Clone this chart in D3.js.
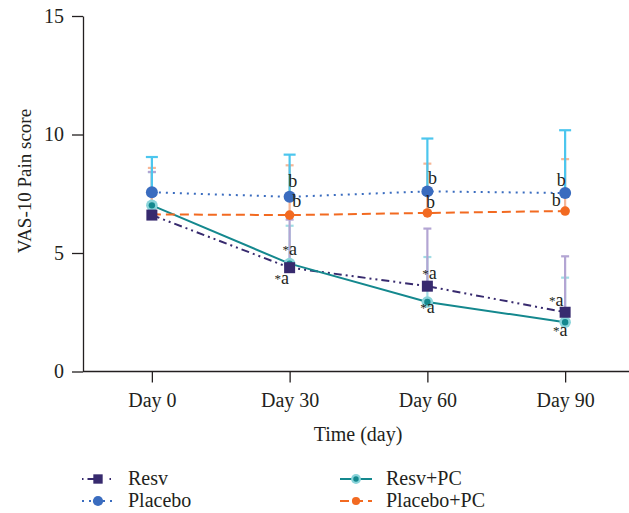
<!doctype html>
<html>
<head>
<meta charset="utf-8">
<script src="https://cdn.jsdelivr.net/npm/d3@7/dist/d3.min.js"></script>
<style>
  body { margin: 0; background: #fff; }
  text { font-family: "Liberation Serif", "DejaVu Serif", serif; fill: #231f20; }
</style>
</head>
<body>
<div id="chart"></div>
<script>
const days = ["Day 0", "Day 30", "Day 60", "Day 90"];
const yTicks = [0, 5, 10, 15];

const seriesNames = ["Resv", "Placebo", "Resv+PC", "Placebo+PC"];
const resvMean = [6.6, 4.38, 3.6, 2.5];
const resvSd = [1.82, 2.03, 2.43, 2.36];
const placeboMean = [7.56, 7.37, 7.6, 7.53];
const placeboSd = [1.49, 1.78, 2.23, 2.65];
const resvPcMean = [7.01, 4.55, 2.93, 2.08];
const resvPcSd = [1.4, 1.6, 1.9, 1.88];
const placeboPcMean = [6.63, 6.6, 6.69, 6.77];
const placeboPcSd = [1.96, 2.1, 2.08, 2.19];

// significance letters, null where nothing is printed
const resvSig = [null, "*a", "*a", "*a"];
const placeboSig = [null, "b", "b", "b"];
const resvPcSig = [null, "*a", "*a", "*a"];
const placeboPcSig = [null, "b", "b", "b"];

const W = 629, H = 513;
const svg = d3.select("#chart").append("svg").attr("width", W).attr("height", H);

const x = d3.scalePoint().domain(days).range([83, 634]).padding(0.5);
const y = d3.scaleLinear().domain([0, 15]).range([371.5, 16]);

const series = [
  {name: seriesNames[0], mean: resvMean, sd: resvSd, sig: resvSig, color: "#372a6e", err: "#b3a5d3",
   dash: "8,4,2,4,2,4", cap: 8, marker: "square",
   lab: [[0,0],[0,-13],[2,-7],[-9,-6]]},
  {name: seriesNames[1], mean: placeboMean, sd: placeboSd, sig: placeboSig, color: "#3a6cbf", err: "#4cc6ee",
   dash: "2,5", cap: 12, marker: "circle",
   lab: [[0,0],[3,-10],[5,-7],[-4,-7]]},
  {name: seriesNames[2], mean: resvPcMean, sd: resvPcSd, sig: resvPcSig, color: "#14888e", err: "#a2dde4",
   dash: null, cap: 8, marker: "halo",
   lab: [[0,0],[-8,20],[0,11],[-5,14]]},
  {name: seriesNames[3], mean: placeboPcMean, sd: placeboPcSd, sig: placeboPcSig, color: "#f26a21", err: "#f7b797",
   dash: "9,5", cap: 8, marker: "dot",
   lab: [[0,0],[7,-8],[3,-5],[-9,-5]]}
];

// axes
const yAxis = svg.append("g").attr("transform", "translate(83,0)")
  .call(d3.axisLeft(y).tickValues(yTicks).tickSize(11).tickPadding(8).tickSizeOuter(0));
const xAxis = svg.append("g").attr("transform", "translate(0,371.5)")
  .call(d3.axisBottom(x).tickSize(11).tickPadding(10).tickSizeOuter(0));
[yAxis, xAxis].forEach(g => {
  g.select(".domain").attr("stroke", "#231f20").attr("stroke-width", 1.3);
  g.selectAll(".tick line").attr("stroke", "#231f20").attr("stroke-width", 1.3);
  g.selectAll(".tick text").attr("fill", "#231f20").style("font-size", "20px")
    .style("font-family", '"Liberation Serif", serif');
});
xAxis.select(".domain").attr("d", "M83,0H629");

svg.append("text").attr("transform", "translate(31,181) rotate(-90)")
  .attr("text-anchor", "middle").style("font-size", "19px").text("VAS-10 Pain score");
svg.append("text").attr("x", 358).attr("y", 441)
  .attr("text-anchor", "middle").style("font-size", "20px").text("Time (day)");

// error bars (upper half only)
const errOrder = [2, 0, 3, 1];
errOrder.forEach(i => {
  const s = series[i];
  const g = svg.append("g");
  days.forEach((d, j) => {
    const top = y(s.mean[j] + s.sd[j]);
    g.append("line").attr("x1", x(d)).attr("x2", x(d))
      .attr("y1", y(s.mean[j])).attr("y2", top)
      .attr("stroke", s.err).attr("stroke-width", 2.2);
    g.append("line").attr("x1", x(d) - s.cap / 2).attr("x2", x(d) + s.cap / 2)
      .attr("y1", top).attr("y2", top)
      .attr("stroke", s.err).attr("stroke-width", 2.2);
  });
});

// lines
const line = d3.line().x((v, j) => x(days[j])).y(v => y(v));
series.forEach(s => {
  svg.append("path").attr("d", line(s.mean)).attr("fill", "none")
    .attr("stroke", s.color).attr("stroke-width", 2)
    .attr("stroke-dasharray", s.dash);
});

function drawMarker(g, s, cx, cy, scale) {
  if (s.marker === "square") {
    const a = 11 * scale;
    g.append("rect").attr("x", cx - a / 2).attr("y", cy - a / 2).attr("width", a).attr("height", a)
      .attr("fill", s.color);
  } else if (s.marker === "circle") {
    g.append("circle").attr("cx", cx).attr("cy", cy).attr("r", 6 * scale).attr("fill", s.color);
  } else if (s.marker === "halo") {
    g.append("circle").attr("cx", cx).attr("cy", cy).attr("r", 5.8 * scale).attr("fill", "#8ad4da");
    g.append("circle").attr("cx", cx).attr("cy", cy).attr("r", 3.2 * scale).attr("fill", s.color);
  } else {
    g.append("circle").attr("cx", cx).attr("cy", cy).attr("r", 4.8 * scale).attr("fill", s.color);
  }
}

// markers, drawn so the Resv square sits on top at day 0
[3, 2, 1, 0].forEach(i => {
  const s = series[i];
  const g = svg.append("g");
  days.forEach((d, j) => drawMarker(g, s, x(d), y(s.mean[j]), 1));
});

// significance labels
series.forEach(s => {
  days.forEach((d, j) => {
    if (!s.sig[j]) return;
    const t = svg.append("text")
      .attr("x", x(d) + s.lab[j][0]).attr("y", y(s.mean[j]) + s.lab[j][1])
      .attr("text-anchor", "middle").style("font-size", "18px");
    if (s.sig[j].startsWith("*")) {
      t.append("tspan").style("font-size", "13px").attr("dy", -1).text("*");
      t.append("tspan").attr("dy", 1).text(s.sig[j].slice(1));
    } else {
      t.text(s.sig[j]);
    }
  });
});

// legend
const legendPos = [[82, 479], [82, 501], [340, 479], [340, 501]];
series.forEach((s, i) => {
  const [lx, ly] = legendPos[i];
  const g = svg.append("g");
  g.append("line").attr("x1", lx).attr("x2", lx + 32).attr("y1", ly).attr("y2", ly)
    .attr("stroke", s.color).attr("stroke-width", 2)
    .attr("stroke-dasharray", s.name === "Resv" ? "1.5,4,8,14,1.5,4,1.5,4" : s.dash);
  drawMarker(g, s, lx + 16, ly, 0.85);
  g.append("text").attr("x", lx + 46).attr("y", ly + 6).style("font-size", "20px").text(s.name);
});
</script>
</body>
</html>
